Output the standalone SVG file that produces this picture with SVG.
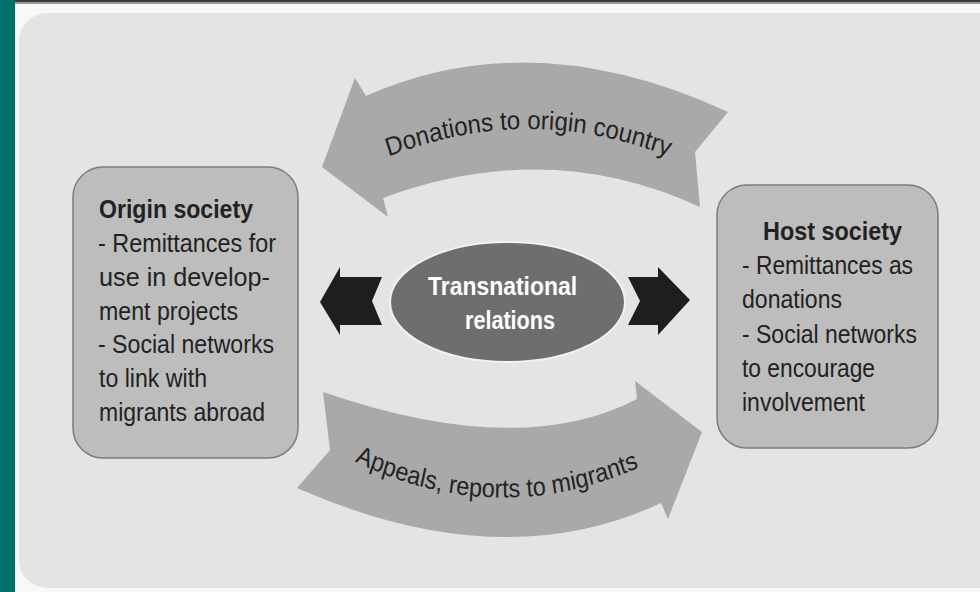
<svg xmlns="http://www.w3.org/2000/svg" width="980" height="592" viewBox="0 0 980 592">
  <style>
    .box { fill: #bdbdbd; stroke: #7c7c7c; stroke-width: 1.5; }
    .flow { fill: #a9a9a9; }
    .dark { fill: #1e1e1e; }
    .t { font-family: "Liberation Sans", Arial, sans-serif; font-size: 26px; fill: #222; }
    .b { font-weight: bold; }
    .w { fill: #ffffff; font-weight: bold; }
  </style>
  <defs>
    <path id="arcTop" d="M 416.2,158 Q 570.8,100 726.5,158"/>
    <path id="arcBot" d="M 391.1,460 Q 552.2,532 713.3,466"/>
  </defs>

  <!-- background -->
  <rect x="0" y="0" width="980" height="592" fill="#f8f8f8"/>
  <rect x="15" y="0" width="965" height="2.5" fill="#3c3c3c"/>
  <rect x="15" y="2.5" width="965" height="1.5" fill="#9a9a9a"/>
  <rect x="19" y="13" width="990" height="575" rx="28" fill="#e4e4e4"/>
  <rect x="0" y="0" width="15" height="592" fill="#00706b"/>

  <g id="connectors">
    <g id="flow-top">
      <path class="flow" d="M 322,167 L 355,78 L 366,96 Q 533,22 728,112 L 695,152 L 700,207 Q 548,137 383,198 L 388,217 Z"/>
      <text class="t" transform="scale(0.925,1)" style="font-size:26px"><textPath href="#arcTop" startOffset="50%" text-anchor="middle">Donations to origin country</textPath></text>
    </g>
    <g id="flow-bottom">
      <path class="flow" d="M 323,392 Q 520,460 637,399 L 635,381 L 702,432 L 668,519 L 661,503 Q 501,578 297,488 L 330,450 Z"/>
      <text class="t" transform="scale(0.9,1)" style="font-size:26px"><textPath href="#arcBot" startOffset="50%" text-anchor="middle">Appeals, reports to migrants</textPath></text>
    </g>
    <polygon id="arrow-left" class="dark" points="320,302 340,267 340,277 382,277 372,301 382,325 340,325 340,335"/>
    <polygon id="arrow-right" class="dark" points="628,277 658,277 658,267 690,300 658,335 658,325 628,325 640,301"/>
  </g>

  <g id="origin">
    <rect class="box" x="73" y="167" width="225" height="291" rx="30"/>
    <text class="t b" x="99" y="218" textLength="154" lengthAdjust="spacingAndGlyphs">Origin society</text>
    <text class="t" x="98" y="252" textLength="178" lengthAdjust="spacingAndGlyphs">- Remittances for</text>
    <text class="t" x="99" y="286" textLength="171" lengthAdjust="spacingAndGlyphs">use in develop-</text>
    <text class="t" x="99" y="320" textLength="139" lengthAdjust="spacingAndGlyphs">ment projects</text>
    <text class="t" x="98" y="353" textLength="176" lengthAdjust="spacingAndGlyphs">- Social networks</text>
    <text class="t" x="99" y="387" textLength="108" lengthAdjust="spacingAndGlyphs">to link with</text>
    <text class="t" x="99" y="421" textLength="166" lengthAdjust="spacingAndGlyphs">migrants abroad</text>
  </g>

  <g id="host">
    <rect class="box" x="717" y="185" width="221" height="263" rx="30"/>
    <text class="t b" x="763" y="240" textLength="139" lengthAdjust="spacingAndGlyphs">Host society</text>
    <text class="t" x="742" y="274" textLength="171" lengthAdjust="spacingAndGlyphs">- Remittances as</text>
    <text class="t" x="742" y="308" textLength="100" lengthAdjust="spacingAndGlyphs">donations</text>
    <text class="t" x="742" y="343" textLength="175" lengthAdjust="spacingAndGlyphs">- Social networks</text>
    <text class="t" x="742" y="377" textLength="133" lengthAdjust="spacingAndGlyphs">to encourage</text>
    <text class="t" x="742" y="411" textLength="123" lengthAdjust="spacingAndGlyphs">involvement</text>
  </g>

  <g id="transnational">
    <ellipse cx="507.5" cy="302" rx="117.5" ry="60" fill="#6e6e6e" stroke="#f2f2f2" stroke-width="2"/>
    <text class="t w" x="428" y="295" textLength="149" lengthAdjust="spacingAndGlyphs">Transnational</text>
    <text class="t w" x="465" y="329" textLength="90" lengthAdjust="spacingAndGlyphs">relations</text>
  </g>
</svg>
